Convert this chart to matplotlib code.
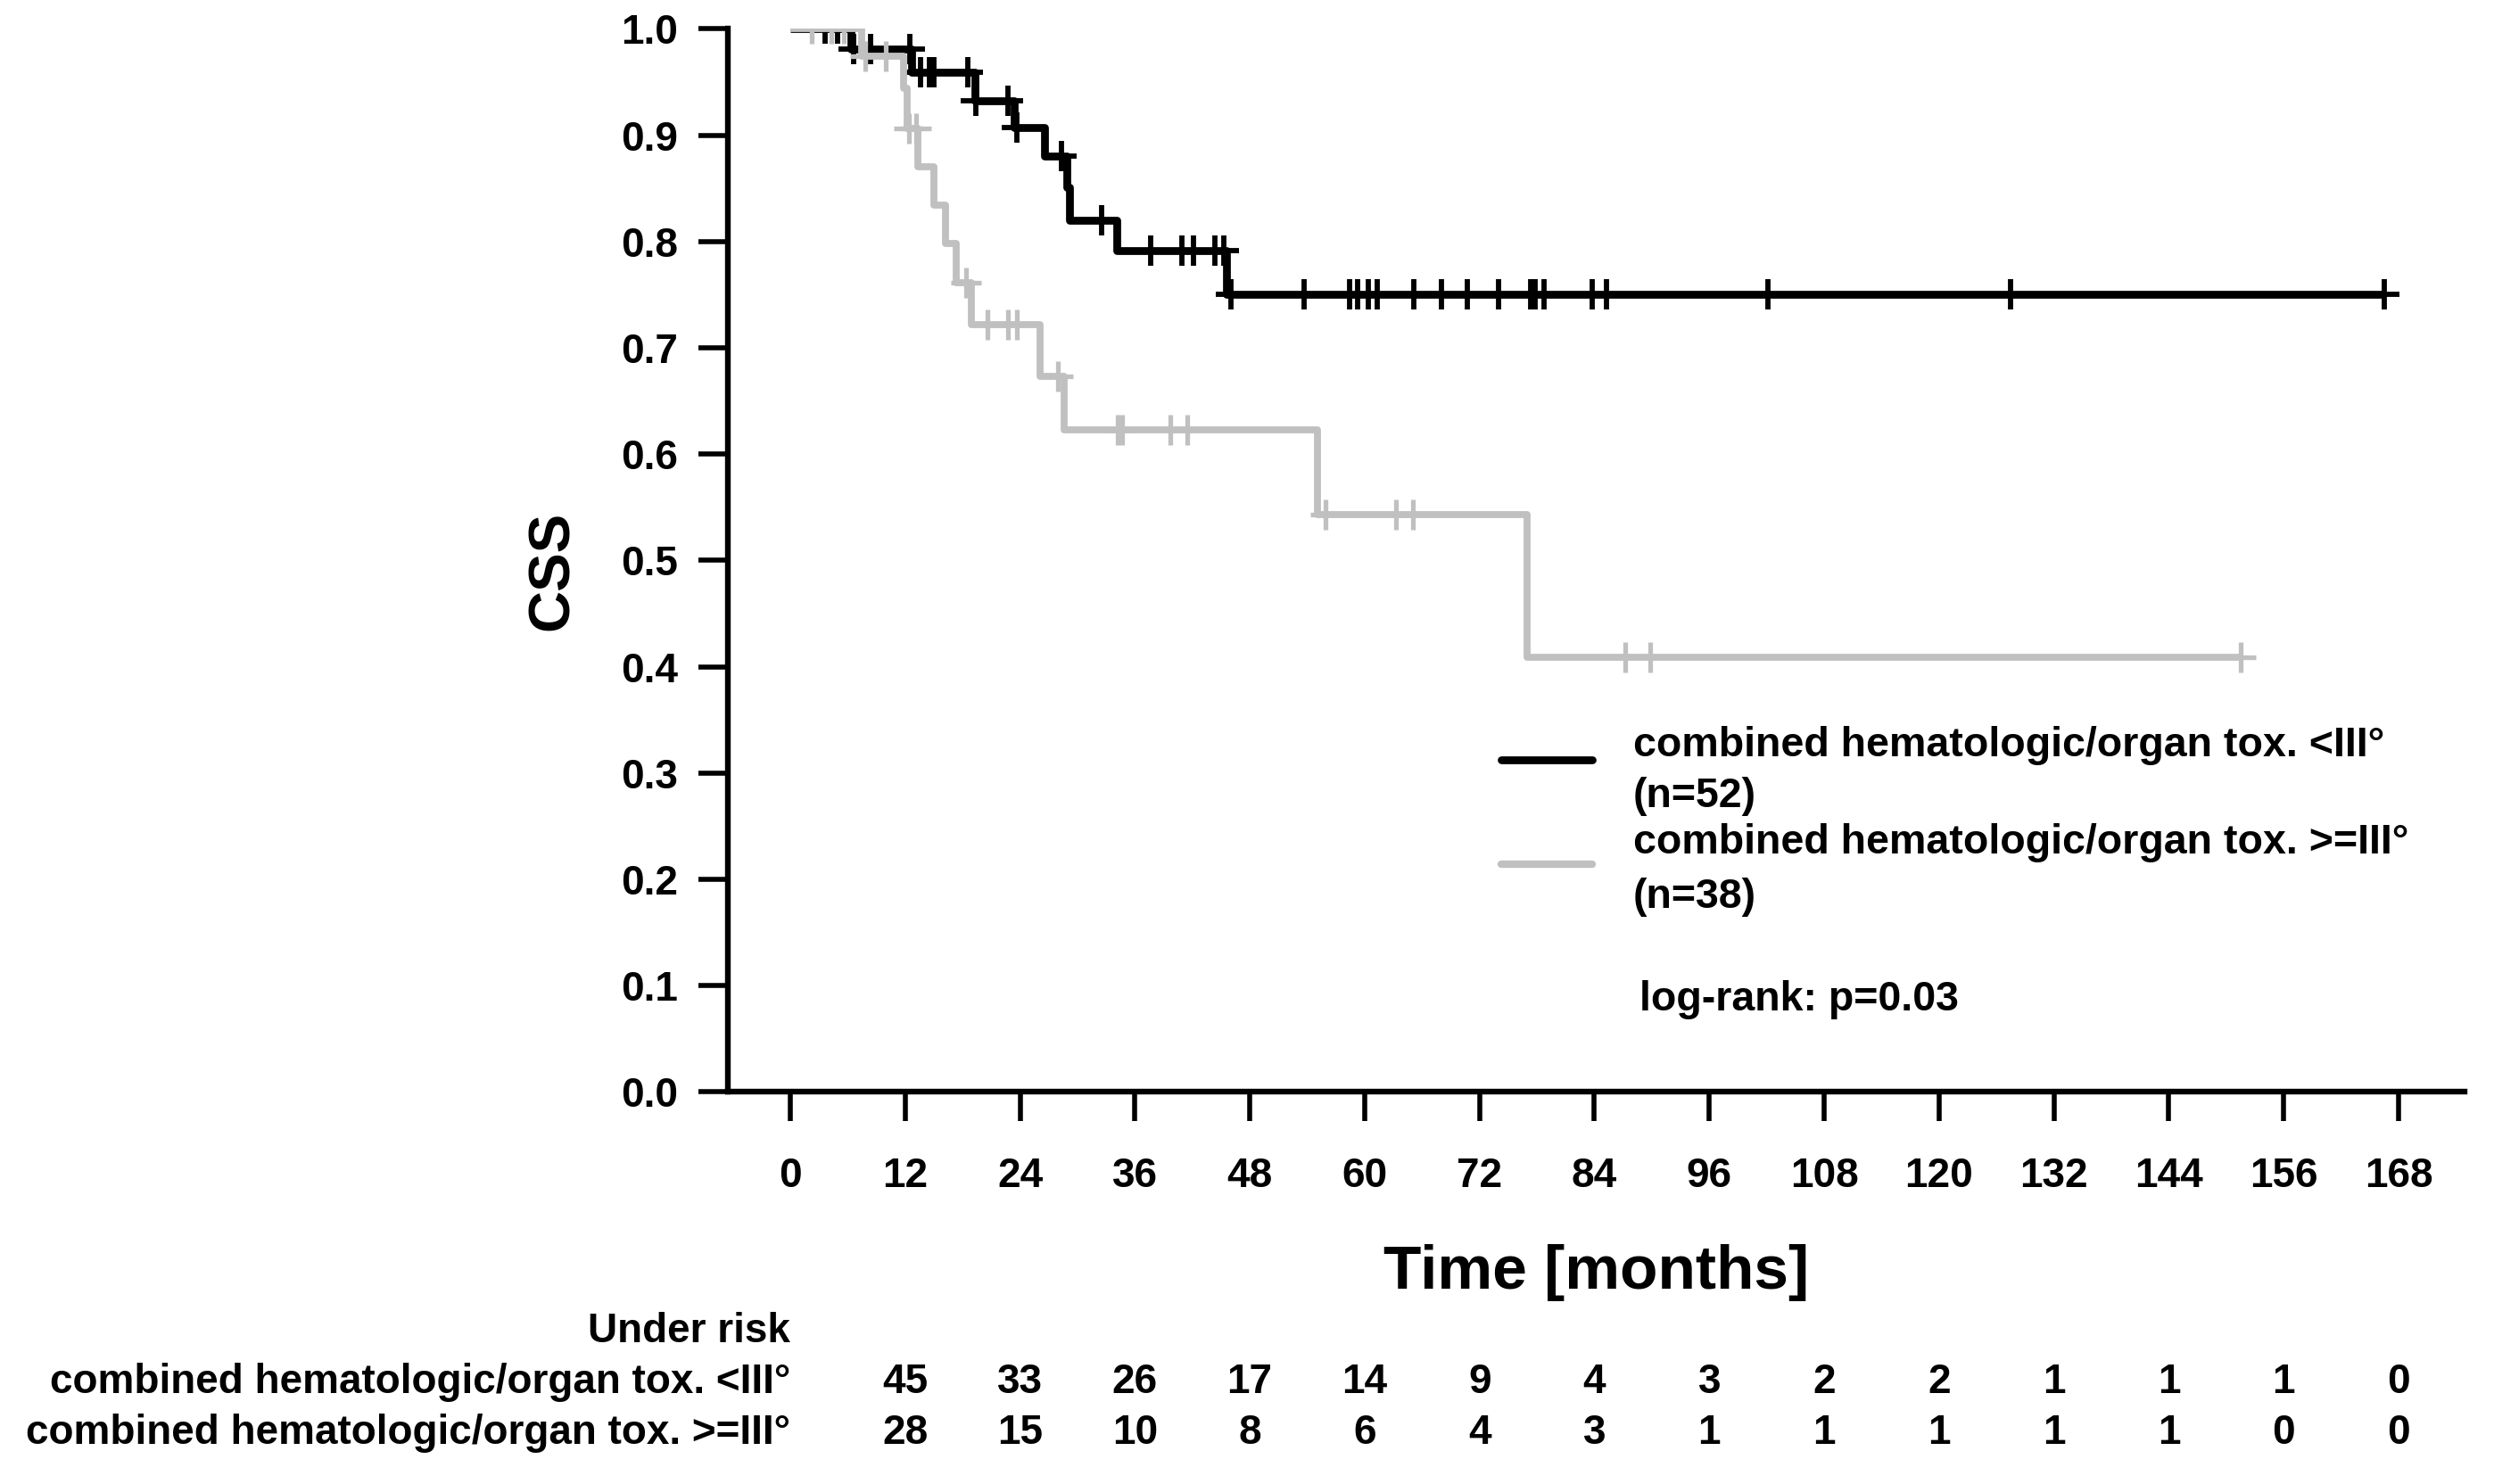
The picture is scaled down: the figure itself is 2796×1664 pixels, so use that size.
import numpy as np
import matplotlib
matplotlib.use("Agg")
from matplotlib import pyplot as plt
from matplotlib.lines import Line2D
from matplotlib.transforms import blended_transform_factory

plt.rcParams['font.family'] = ['Liberation Sans', 'DejaVu Sans']
plt.rcParams['font.weight'] = 'bold'

# --- data ------------------------------------------------------------------
group_labels = ['combined hematologic/organ tox. <III°',
                'combined hematologic/organ tox. >=III°']
group_n = [52, 38]

low_event_times = [6.3, 12.7, 19.3, 23.4, 26.6, 28.9, 29.2, 34.1, 45.6]
low_surv = [0.981, 0.959, 0.932, 0.907, 0.880, 0.851, 0.820, 0.791, 0.750]
low_censor = [3.6, 4.9, 6.6, 8.4, 12.5, 13.6, 14.5, 15.0, 18.5, 19.4, 22.7,
              23.7, 28.3, 32.5, 37.6, 40.9, 42.1, 44.4, 45.3, 46.0, 53.7,
              58.4, 59.3, 60.4, 61.3, 65.1, 68.0, 70.7, 74.0, 77.3, 77.8,
              78.7, 83.8, 85.3, 102.1, 127.5, 166.5]

high_event_times = [7.5, 11.8, 12.2, 13.3, 15.0, 16.2, 17.3, 18.9, 26.1,
                    28.6, 55.1, 77.0]
high_surv = [0.974, 0.944, 0.906, 0.870, 0.834, 0.798, 0.761, 0.722, 0.673,
             0.623, 0.543, 0.409]
high_censor = [2.2, 4.3, 5.6, 7.8, 10.0, 12.4, 13.1, 18.4, 20.6, 22.7, 23.7,
               28.0, 34.2, 34.7, 39.7, 41.5, 55.9, 63.3, 65.0, 87.2, 89.8,
               151.5]

x_ticks = list(range(0, 169, 12))
y_ticks = [0.0, 0.1, 0.2, 0.3, 0.4, 0.5, 0.6, 0.7, 0.8, 0.9, 1.0]
risk_times = list(range(12, 169, 12))
risk_low = [45, 33, 26, 17, 14, 9, 4, 3, 2, 2, 1, 1, 1, 0]
risk_high = [28, 15, 10, 8, 6, 4, 3, 1, 1, 1, 1, 1, 0, 0]
p_text = 'log-rank: p=0.03'

BLACK = '#000000'
GREY = '#c0c0c0'
FS = 33

W, H, DPI = 2796, 1664, 100


def fy(py):
    # pixel row from the top -> figure fraction
    return 1 - py / H


def km_steps(times, surv, last):
    x = np.concatenate([[0.0], times, [last]])
    y = np.concatenate([[1.0], surv, [surv[-1]]])
    return x, y


def level_at(t, times, surv):
    levels = np.concatenate([[1.0], surv])
    return levels[np.searchsorted(times, t, side='right')]


fig = plt.figure(figsize=(W / DPI, H / DPI), dpi=DPI)
ax = fig.add_axes([815.7 / W, fy(1224.4), (2763 - 815.7) / W, (1224.4 - 32.3) / H])

curves = [
    (low_event_times, low_surv, low_censor, BLACK, 6.3, 4.2, 2),
    (high_event_times, high_surv, high_censor, GREY, 5.6, 3.8, 3),
]
for times, surv, censor, color, lw, mew, z in curves:
    times = np.array(times)
    surv = np.array(surv)
    censor = np.array(censor)
    x, y = km_steps(times, surv, censor.max())
    ax.step(x, y, where='post', color=color, lw=lw, zorder=z,
            solid_capstyle='butt')
    ax.plot(censor, level_at(censor, times, surv), ls='none', marker='+',
            ms=25, mew=mew, color=color, zorder=z)

ax.set_xlim(-6.55, 174.9)
ax.set_ylim(0, 1.0)
ax.set_xticks(x_ticks)
ax.set_yticks(y_ticks)
ax.set_yticklabels([f'{v:.1f}' for v in y_ticks])
ax.tick_params(axis='both', direction='out', length=23.5, width=4,
               labelsize=FS, color=BLACK)
ax.tick_params(axis='x', pad=29)
ax.tick_params(axis='y', pad=16.5)
for lab in ax.get_xticklabels() + ax.get_yticklabels():
    lab.set_fontweight('bold')

for side in ['top', 'right']:
    ax.spines[side].set_visible(False)
for side in ['left', 'bottom']:
    ax.spines[side].set_linewidth(4.6)

# axis titles
ax.text(-0.1005, 0.49, 'CSS', transform=ax.transAxes, rotation=90,
        ha='center', va='center', fontsize=47, fontweight='bold')
xt = blended_transform_factory(ax.transAxes, fig.transFigure)
ax.text(0.5, fy(1445), 'Time [months]', transform=xt, ha='center',
        va='baseline', fontsize=50, fontweight='bold')

# legend drawn by hand
for py, color, lw in [(852, BLACK, 6.3), (969, GREY, 6.0)]:
    fig.add_artist(Line2D([1683 / W, 1785 / W], [fy(py), fy(py)],
                          transform=fig.transFigure, color=color, lw=lw,
                          solid_capstyle='round'))
legend_lines = [group_labels[0], f'(n={group_n[0]})',
                group_labels[1], f'(n={group_n[1]})']
for txt, py in zip(legend_lines, [848, 905, 957, 1018]):
    fig.text(1831 / W, fy(py), txt, ha='left', va='baseline', fontsize=33.5,
             fontweight='bold')
fig.text(1838 / W, fy(1133), p_text, ha='left', va='baseline', fontsize=33.5,
         fontweight='bold')

# numbers at risk
rt = blended_transform_factory(ax.transData, fig.transFigure)
ax.text(0, fy(1505), 'Under risk', transform=rt, ha='right', va='baseline',
        fontsize=FS, fontweight='bold', clip_on=False)
for label, counts, py in [(group_labels[0], risk_low, 1562),
                          (group_labels[1], risk_high, 1619)]:
    ax.text(0, fy(py), label, transform=rt, ha='right', va='baseline',
            fontsize=FS, fontweight='bold', clip_on=False)
    for t, c in zip(risk_times, counts):
        ax.text(t, fy(py), str(c), transform=rt, ha='center', va='baseline',
                fontsize=FS, fontweight='bold', clip_on=False)

fig.savefig('out.png', dpi=DPI)
